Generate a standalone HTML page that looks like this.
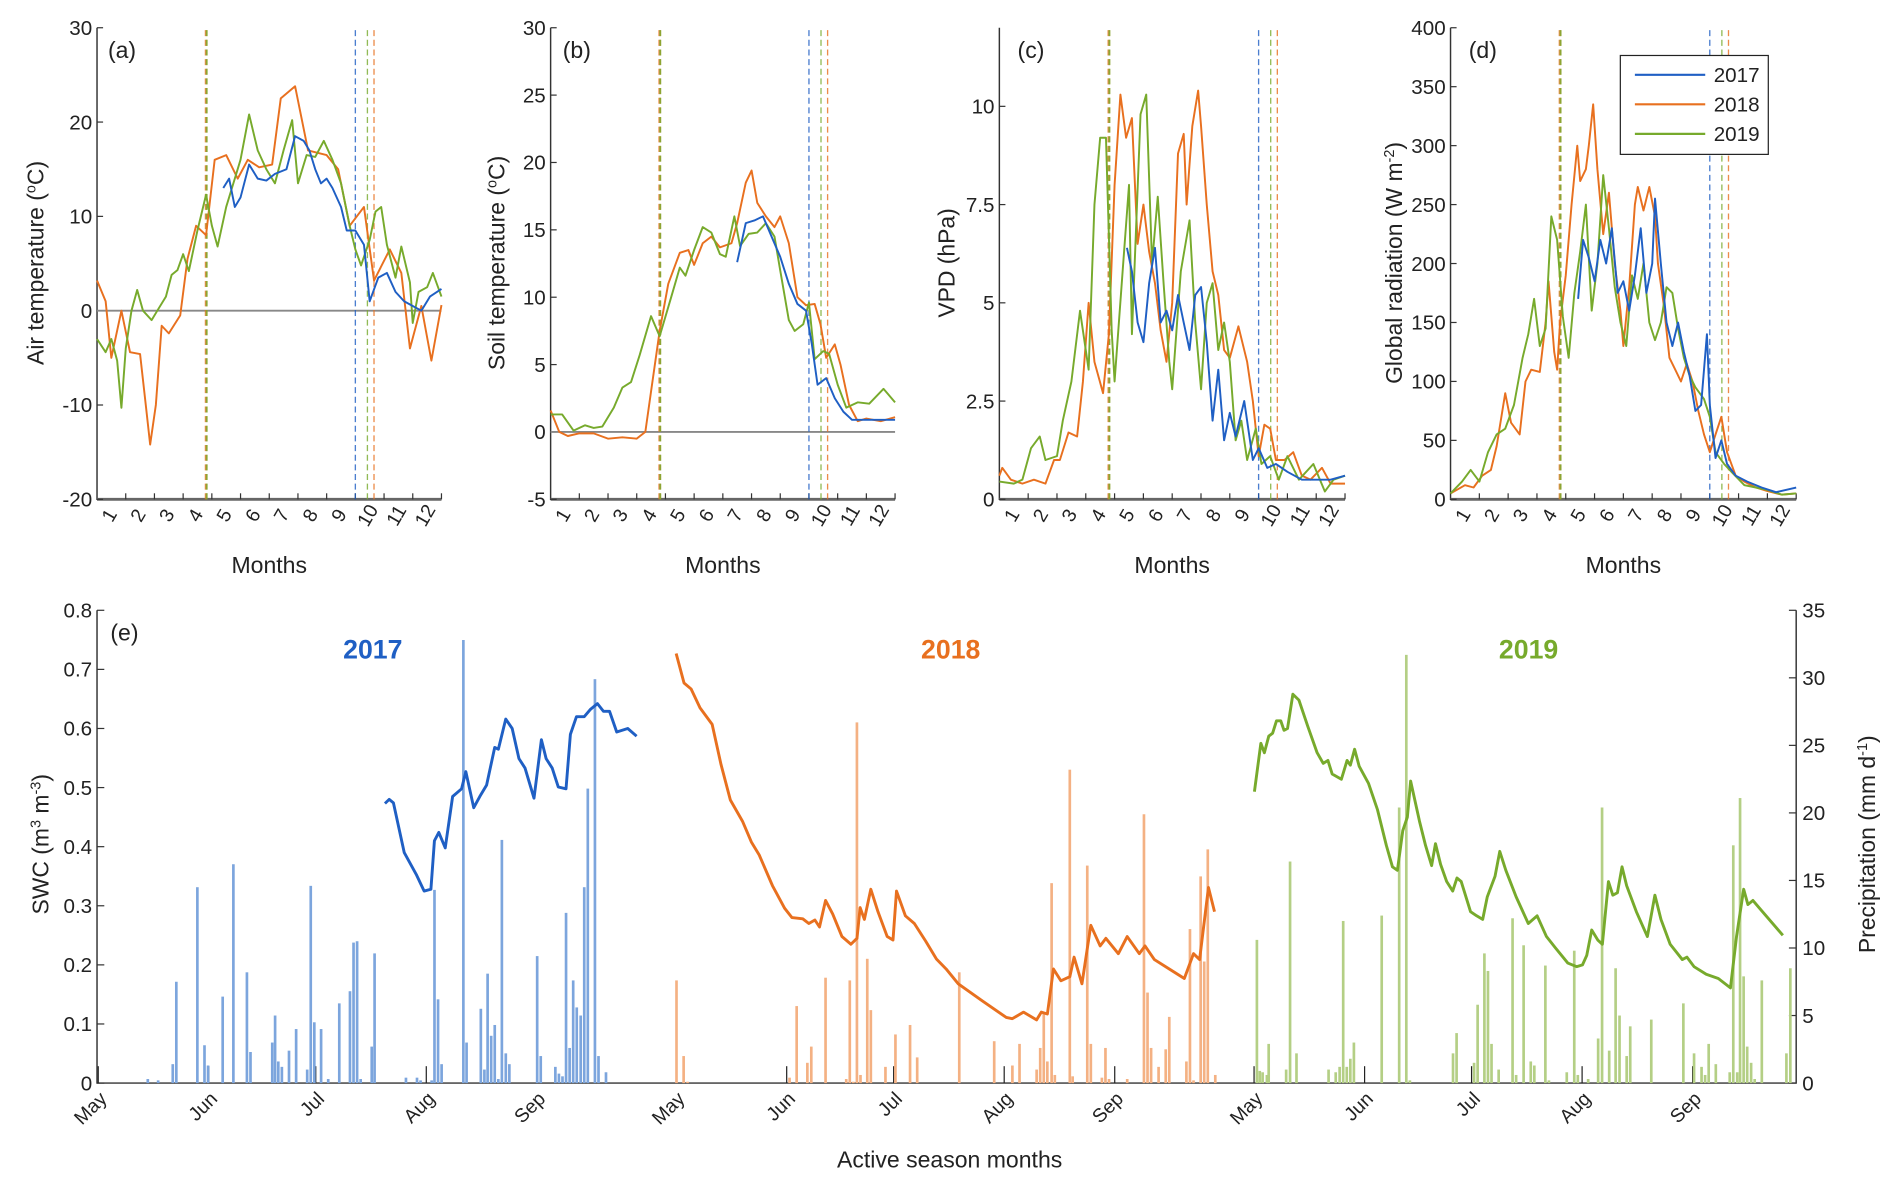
<!DOCTYPE html>
<html><head><meta charset="utf-8">
<style>
html,body{margin:0;padding:0;background:#fff;}
svg{display:block;}
text{font-family:"Liberation Sans",sans-serif;fill:#222;}
</style></head>
<body>
<svg id="fig" xmlns="http://www.w3.org/2000/svg" width="1892" height="1188" viewBox="0 0 1560 985" preserveAspectRatio="none"></svg>
<script>
// ---------- DATA (months 0..12) ----------
const aOrangeM=[0,0.3,0.5,0.85,1.15,1.5,1.7,1.85,2.05,2.25,2.5,2.9,3.15,3.45,3.8,4.1,4.5,4.9,5.25,5.65,6.1,6.4,6.9,7.35,8,8.4,8.8,9.3,9.65,10.2,10.6,10.9,11.3,11.65,12];
const aOrangeV=[3.2,1,-5,0,-4.4,-4.6,-10,-14.2,-10,-1.6,-2.4,-0.5,5.5,9,8,16,16.5,14,16,15.2,15.5,22.5,23.8,17,16.5,15,9,11,3.2,6.5,4,-4,0.5,-5.3,0.6];
const aGreenM=[0,0.3,0.5,0.7,0.85,1.0,1.2,1.4,1.6,1.9,2.1,2.4,2.6,2.8,3.0,3.2,3.5,3.8,4.0,4.2,4.5,4.8,5.0,5.3,5.6,5.9,6.2,6.5,6.8,7.0,7.3,7.6,7.9,8.2,8.5,8.8,9.0,9.2,9.5,9.7,9.9,10.1,10.4,10.6,10.9,11.0,11.2,11.5,11.7,12];
const aGreenV=[-3,-4.4,-3,-5.3,-10.3,-4,0,2.2,0,-1,0,1.5,3.8,4.3,6,4.2,8.5,12.3,9,6.8,11,14,16,20.8,17,15,13.5,17,20.2,13.5,16.5,16.3,18,16,13.5,9,6.5,4.8,7.5,10.5,11,7,3.5,6.8,3,-1.3,2,2.5,4,1.5];
const aBlueM=[4.4,4.6,4.8,5.0,5.3,5.6,5.9,6.2,6.6,6.9,7.2,7.4,7.6,7.8,8.0,8.2,8.5,8.7,9.0,9.3,9.5,9.8,10.1,10.4,10.7,11,11.3,11.6,12];
const aBlueV=[13,14,11,12,15.5,14,13.8,14.5,15,18.5,18,17,15,13.5,14,13,11,8.5,8.5,7,1,3.5,4,2,1,0.5,0,1.5,2.3];

const bOrangeM=[0,0.3,0.6,1.0,1.5,2.0,2.5,3.0,3.3,3.5,3.8,4.1,4.5,4.8,5.0,5.3,5.6,5.9,6.3,6.5,6.8,7.0,7.2,7.5,7.8,8.0,8.3,8.6,8.9,9.2,9.4,9.6,9.9,10.1,10.4,10.7,11,11.5,12];
const bOrangeV=[1.6,0,-0.3,-0.1,-0.1,-0.5,-0.4,-0.5,0,3,7.5,11,13.3,13.5,12.4,14,14.5,13.7,14,15.5,18.5,19.4,17,16,15.2,16,14,10,9.4,9.5,8,5.5,6.5,5,2,0.8,1,0.8,1.1];
const bGreenM=[0,0.4,0.8,1.2,1.5,1.8,2.2,2.5,2.8,3.1,3.5,3.8,4.2,4.5,4.7,5.0,5.3,5.6,5.9,6.1,6.4,6.6,6.9,7.2,7.5,7.8,8.0,8.3,8.5,8.8,9.0,9.2,9.5,9.7,10.0,10.3,10.7,11.1,11.6,12];
const bGreenV=[1.3,1.3,0.1,0.5,0.3,0.4,1.8,3.3,3.7,5.7,8.6,7.1,10,12.2,11.6,13.5,15.2,14.8,13.2,13,16,13.8,14.7,14.8,15.5,14.5,12,8.3,7.5,8,9.6,5.4,6,5.8,3.5,1.8,2.2,2.1,3.2,2.2];
const bBlueM=[6.5,6.8,7.1,7.4,7.7,8.0,8.3,8.6,8.9,9.1,9.3,9.6,9.9,10.2,10.5,11,12];
const bBlueV=[12.6,15.5,15.7,16,14.5,13,11,9.5,9,6.5,3.5,4,2.5,1.5,0.9,0.9,0.9];

const cOrangeM=[0,0.1,0.4,0.8,1.2,1.6,1.9,2.1,2.4,2.7,2.9,3.1,3.3,3.6,3.8,4.0,4.2,4.4,4.6,4.8,5.0,5.2,5.4,5.6,5.8,6.0,6.2,6.4,6.5,6.7,6.9,7.0,7.2,7.4,7.6,7.8,8.0,8.3,8.6,8.8,9.0,9.2,9.4,9.6,9.9,10.2,10.5,10.8,11.2,11.5,12];
const cOrangeV=[0.6,0.8,0.5,0.4,0.5,0.4,1.0,1.0,1.7,1.6,3,5,3.5,2.7,4.2,8,10.3,9.2,9.7,6.5,7.5,6.3,5.5,4.3,3.5,5,8.8,9.3,7.5,9.5,10.4,9.5,7.5,5.8,5.2,3.8,3.6,4.4,3.5,2.5,1.1,1.9,1.8,1.0,1.0,1.2,0.6,0.5,0.8,0.4,0.4];
const cGreenM=[0,0.5,0.8,1.1,1.4,1.6,2.0,2.2,2.5,2.8,3.1,3.3,3.5,3.7,3.9,4.0,4.3,4.5,4.6,4.9,5.1,5.3,5.5,5.7,5.9,6.0,6.3,6.6,6.8,7.0,7.2,7.4,7.6,7.8,8.0,8.2,8.4,8.6,8.9,9.1,9.4,9.7,10.0,10.4,10.9,11.3,11.6,12];
const cGreenV=[0.45,0.4,0.5,1.3,1.6,1.0,1.1,2.0,3.0,4.8,3.3,7.5,9.2,9.2,4.3,3.0,6.0,8.0,4.2,9.8,10.3,6.0,7.7,5.5,3.5,2.8,5.8,7.1,4.5,2.8,5.0,5.5,3.8,4.5,3.5,1.5,2.0,1.0,1.8,0.9,1.1,0.5,1.1,0.5,0.9,0.2,0.5,0.6];
const cBlueM=[4.43,4.6,4.8,5.0,5.2,5.4,5.6,5.8,6.0,6.2,6.4,6.6,6.8,7.0,7.2,7.4,7.6,7.8,8.0,8.2,8.5,8.8,9.0,9.3,9.6,10.0,10.5,11,11.5,12];
const cBlueV=[6.4,5.8,4.5,4.0,5.5,6.4,4.5,4.8,4.3,5.2,4.5,3.8,5.2,5.4,4.0,2.0,3.3,1.5,2.2,1.6,2.5,1.0,1.3,0.8,0.9,0.7,0.5,0.5,0.5,0.6];

const dOrangeM=[0,0.5,0.8,1.1,1.4,1.6,1.9,2.1,2.4,2.6,2.8,3.1,3.3,3.4,3.6,3.7,3.8,4.0,4.2,4.4,4.5,4.7,4.8,4.95,5.1,5.3,5.5,5.7,5.9,6.0,6.2,6.4,6.5,6.7,6.9,7.1,7.2,7.4,7.6,7.8,8.0,8.2,8.4,8.6,8.8,9.0,9.2,9.4,9.6,9.9,10.2,10.6,11,11.5,12];
const dOrangeV=[5,12,10,20,25,45,90,65,55,100,110,108,150,185,125,110,150,190,250,300,270,280,300,335,280,225,260,200,160,130,180,250,265,245,265,240,200,165,120,110,100,115,100,75,55,40,55,70,40,20,15,10,7,4,5];
const dGreenM=[0,0.4,0.7,1.0,1.3,1.6,1.9,2.2,2.5,2.7,2.9,3.1,3.3,3.5,3.7,3.9,4.1,4.3,4.5,4.7,4.9,5.1,5.3,5.5,5.7,5.9,6.1,6.3,6.5,6.7,6.9,7.1,7.3,7.5,7.7,7.9,8.1,8.3,8.5,8.8,9.0,9.2,9.5,9.8,10.2,10.6,11,11.5,12];
const dGreenV=[5,15,25,15,40,55,60,80,120,140,170,130,145,240,220,155,120,175,210,250,160,200,275,230,180,150,130,190,170,200,150,135,150,180,175,145,120,105,95,85,70,40,30,22,12,10,8,4,5];
const dBlueM=[4.43,4.6,4.8,5.0,5.2,5.4,5.6,5.8,6.0,6.2,6.4,6.6,6.8,7.0,7.1,7.3,7.5,7.7,7.9,8.1,8.3,8.5,8.7,8.9,9.0,9.2,9.4,9.6,9.9,10.3,10.8,11.3,12];
const dBlueV=[170,220,205,185,220,200,230,175,185,160,190,230,175,200,255,200,150,130,150,125,105,75,80,140,80,35,50,30,20,15,10,6,10];

// season boundaries (month) [2017,2018,2019]
const seasonStart=[3.8,3.8,3.82];
const seasonEnd=[9.0,9.65,9.42];

// ---------- panel (e): day of season from May 1 ----------
const swc17D=[80.4,81.6,82.8,85.8,89.2,91.4,93.3,94.3,95.5,97.3,99.4,101.9,103.1,105.3,107,108.9,111.2,112.2,114.3,116.1,118,119.7,122.2,124.3,125.6,127.3,129,131.2,132.4,134.1,136.3,138,140,141.7,143.4,145.4,148.5,151];
const swc17V=[0.473,0.48,0.474,0.39,0.353,0.325,0.328,0.41,0.424,0.398,0.485,0.498,0.527,0.466,0.485,0.504,0.568,0.565,0.616,0.6,0.549,0.533,0.482,0.581,0.549,0.533,0.501,0.498,0.59,0.62,0.62,0.632,0.642,0.629,0.629,0.594,0.6,0.587];
const swc18D=[0,2.2,4.2,6.7,10.1,12.6,15.2,18.6,21.1,23.3,27,30.4,32.5,35.5,37.2,38.9,40.2,41.9,43.9,46.5,49,50.7,51.6,52.8,54.6,56.6,59.2,60.8,61.8,64.3,66.8,70,73,75.7,79.1,85.9,92.6,94.3,97.4,101.1,102.4,104.1,105.8,107.9,110.4,111.6,113.8,116.3,118.9,120.5,124,126.5,129.9,131.5,134.1,138.3,142.5,145.1,146.8,149.3,151];
const swc18V=[0.727,0.677,0.667,0.635,0.607,0.539,0.479,0.443,0.408,0.386,0.334,0.296,0.28,0.278,0.27,0.276,0.264,0.309,0.286,0.248,0.235,0.245,0.297,0.277,0.328,0.29,0.248,0.242,0.325,0.283,0.27,0.24,0.21,0.193,0.168,0.139,0.111,0.109,0.12,0.107,0.12,0.117,0.193,0.173,0.18,0.213,0.168,0.267,0.232,0.245,0.219,0.248,0.219,0.232,0.209,0.193,0.177,0.219,0.209,0.331,0.29];
const swc19D=[0.1,1.9,2.9,4.1,5.2,6.3,7.5,8.4,9.4,10.9,12.6,15.1,17.7,19.4,20.7,21.9,24.5,26.1,27,28.2,29.5,32.1,34.6,37.1,38.8,40.2,41.7,43,43.9,46.4,48.1,49.8,50.9,52.3,54,55.7,56.9,58.1,60.7,62.4,64.1,65.4,67.6,68.9,70.6,73.5,76.9,79.4,82,84.5,88,90.5,92.1,93.3,94.7,96.4,97.7,99.4,100.6,101.9,103.2,104.5,107.2,110.3,112.4,114.1,116.7,120.1,121.4,123.4,126.8,130.2,133.6,135.3,137.3,138.5,139.9,141.6,148.3];
const swc19V=[0.493,0.575,0.559,0.587,0.592,0.613,0.613,0.597,0.6,0.658,0.648,0.603,0.559,0.541,0.546,0.523,0.514,0.546,0.538,0.565,0.536,0.507,0.463,0.402,0.366,0.36,0.427,0.45,0.511,0.443,0.402,0.368,0.405,0.37,0.341,0.325,0.347,0.341,0.29,0.283,0.277,0.315,0.35,0.392,0.36,0.315,0.27,0.283,0.248,0.229,0.203,0.197,0.2,0.216,0.259,0.242,0.235,0.341,0.318,0.322,0.366,0.334,0.29,0.248,0.318,0.277,0.235,0.209,0.213,0.197,0.184,0.177,0.161,0.248,0.328,0.302,0.309,0.297,0.25];

const pr17D=[13.9,16.8,20.9,21.9,27.8,29.8,30.8,34.9,37.9,41.7,42.7,48.8,49.6,50.5,51.5,53.5,55.5,58.6,59.6,60.6,62.5,64.5,67.6,70.6,71.6,72.6,73.6,76.7,77.5,86.3,89.4,90.4,93.5,94.3,95.3,96.3,102.4,103.3,107.3,108.3,109.2,110.2,111.2,112.2,113.2,114.3,115.3,123.1,124.1,128.2,129.2,130.2,131.2,132.2,133.2,134.2,135.3,136.3,137.3,139.3,140.3,142.4];
const pr17V=[0.3,0.2,1.4,7.5,14.5,2.8,1.3,6.4,16.2,8.2,2.3,3,5,1.6,1.2,2.4,4,1,14.6,4.5,4,0.3,5.9,6.8,10.4,10.5,0.3,2.7,9.6,0.4,0.4,0.2,0.2,14.3,6.2,1.4,32.8,3,5.5,1,8.1,3.5,4.3,0.3,18,2.2,1.4,9.4,2,1.2,0.7,0.5,12.6,2.6,7.6,5.6,5,14.5,21.8,29.9,2,0.8];
const pr18D=[0.1,2.1,3.2,31.8,33.8,36.8,37.9,41.9,47.7,48.7,49.7,50.7,51.7,53.6,54.6,58.7,61.5,65.6,67.6,79.4,89.2,94.3,96.3,101.1,102.1,103.1,104.1,105.3,106.2,110.4,111.2,115.3,116.3,119.4,120.4,121.4,126.5,131.2,132.2,133.2,135.3,137.3,138.3,143.1,144.1,145.1,147.1,148.1,149.1,151.2];
const pr18V=[7.6,2,0.1,0.4,5.7,1.5,2.7,7.8,0.3,7.6,0.1,26.7,0.6,9.2,5.4,1.2,3.6,4.3,1.9,8.2,3.1,1.3,2.9,1,2.6,5.2,1.6,14.8,0.6,23.2,0.5,16.1,2.9,0.4,2.6,0.3,0.3,19.9,6.7,2.6,1.2,2.5,4.9,1.6,11.4,0.2,15.3,9,17.3,0.6];
const pr19D=[0.8,1.6,2.4,3.6,4.1,9.0,10.1,11.9,20.9,22.9,24.0,25.0,26.0,27.0,28.0,35.8,40.7,42.7,43.7,55.8,56.8,61.7,62.7,64.6,65.6,66.6,68.6,72.5,73.5,75.6,77.6,78.6,81.7,82.7,87.7,89.8,90.8,93.7,96.5,97.6,99.6,101.4,102.5,104.5,105.5,111.4,120.4,123.4,125.5,126.5,127.5,129.5,133.4,134.4,135.5,136.3,137.3,138.3,139.4,140.4,142.4,149.3,150.4];
const pr19V=[10.6,0.9,0.8,0.6,2.9,1,16.4,2.2,1,0.8,1.2,12,1.2,1.8,3,12.4,20.4,31.7,0.2,2.2,3.7,1.5,5.8,9.6,8.3,2.9,1,12.2,0.6,10.2,1.6,1.3,8.7,0.2,0.8,9.8,0.6,0.3,3.3,20.4,2.4,8.5,5,2,4.2,4.7,5.9,2.2,1.2,0.6,2.9,1.4,0.8,17.6,0.8,21.1,7.9,2.7,1.5,0.3,7.6,2.2,8.5];

// ---------- drawing ----------
const NS='http://www.w3.org/2000/svg';
const svg=document.getElementById('fig');
function mk(tag,attrs,parent){const e=document.createElementNS(NS,tag);for(const k in attrs)e.setAttribute(k,attrs[k]);(parent||svg).appendChild(e);return e;}
const C={b:'#1f5fc4',o:'#e8701f',g:'#77aa2c'};
const CB={b:'#7ca5dd',o:'#f4b183',g:'#b4cf85'};

function panel(id,x0,x1,yb,yt,vmin,vmax,ticks,tickFmt){
  const g=mk('g',{});
  
  
  const P={g,x:m=>x0+(x1-x0)*m/12,y:v=>yb-(yb-yt)*(v-vmin)/(vmax-vmin)};
  const ax=mk('path',{d:`M${x0},${yt}V${yb}H${x1}`,fill:'none',stroke:'#333','stroke-width':1.2},g);
  
  
  const bl=mk('line',{x1:x0,x2:x1,y1:yb,y2:yb,stroke:'#666','stroke-width':2.4},g);
  
  
  ticks.forEach(v=>{
    const y=P.y(v);
    const t=mk('line',{x1:x0,x2:x0+5,y1:y,y2:y,stroke:'#333','stroke-width':1},g);
    
    
    const tx=mk('text',{x:x0-4,y:y+6,'text-anchor':'end','font-size':17},g);
    
    
    tx.textContent=tickFmt?tickFmt(v):v;
  });
  for(let m=1;m<=12;m++){
    const x=P.x(m);
    const t=mk('line',{x1:x,x2:x,y1:yb,y2:yb-5,stroke:'#333','stroke-width':1},g);
    
    
    const lx=P.x(m-0.5)+3,ly=yb+16;
    const tx=mk('text',{x:lx,y:ly,'text-anchor':'middle','font-size':16,transform:`rotate(-60 ${lx} ${ly})`},g);
    
    
    tx.textContent=m;
  }
  const xt=mk('text',{x:(x0+x1)/2,y:475,'text-anchor':'middle','font-size':19},g);
  
  
  xt.textContent='Months';
  return P;
}
function vdash(P,m,col,yb,yt,w){
  const l=mk('line',{x1:P.x(m),x2:P.x(m),y1:yb,y2:yt,stroke:col,'stroke-width':w,'stroke-dasharray':'5,3',opacity:0.8},P.g);
  
  
}
function series(P,ms,vs,col,name){
  const d=ms.map((m,i)=>(i?'L':'M')+P.x(m).toFixed(1)+','+P.y(vs[i]).toFixed(1)).join('');
  const p=mk('path',{d,fill:'none',stroke:col,'stroke-width':1.6,'stroke-linejoin':'round'},P.g);
  
  
}
function ytitle(x,y,html,name){
  const t=mk('text',{x,y,'text-anchor':'middle','font-size':19,transform:`rotate(-90 ${x} ${y})`});
  
  
  t.innerHTML=html;
}
function plabel(x,y,s){
  const t=mk('text',{x,y,'font-size':19});
  
  
  t.textContent=s;
}
function boundaries(P){
  vdash(P,seasonStart[1],C.o,414,23,2.2);
  vdash(P,seasonStart[2],C.g,414,23,1.6);
  vdash(P,seasonEnd[0],C.b,414,23,1.1);
  vdash(P,seasonEnd[2],C.g,414,23,1.1);
  vdash(P,seasonEnd[1],C.o,414,23,1.1);
}

// (a)
const A=panel('a',80,364,414,23,-20,30,[-20,-10,0,10,20,30]);
const za=mk('line',{x1:80,x2:364,y1:A.y(0),y2:A.y(0),stroke:'#888','stroke-width':1.5},A.g);


boundaries(A);
series(A,aOrangeM,aOrangeV,C.o,'air-temp-2018');
series(A,aGreenM,aGreenV,C.g,'air-temp-2019');
series(A,aBlueM,aBlueV,C.b,'air-temp-2017');
plabel(89,48,'(a)');
ytitle(36,218,'Air temperature (<tspan baseline-shift="super" font-size="12">o</tspan>C)','y-axis-title-air-temp');

// (b)
const B=panel('b',454,738,414,23,-5,30,[-5,0,5,10,15,20,25,30]);
const zb=mk('line',{x1:454,x2:738,y1:B.y(0),y2:B.y(0),stroke:'#888','stroke-width':1.5},B.g);


boundaries(B);
series(B,bOrangeM,bOrangeV,C.o,'soil-temp-2018');
series(B,bGreenM,bGreenV,C.g,'soil-temp-2019');
series(B,bBlueM,bBlueV,C.b,'soil-temp-2017');
plabel(464,48,'(b)');
ytitle(416,218,'Soil temperature (<tspan baseline-shift="super" font-size="12">o</tspan>C)','y-axis-title-soil-temp');

// (c)
const Cp=panel('c',824,1109,414,23,0,12,[0,2.5,5,7.5,10],v=>v);
boundaries(Cp);
series(Cp,cOrangeM,cOrangeV,C.o,'vpd-2018');
series(Cp,cGreenM,cGreenV,C.g,'vpd-2019');
series(Cp,cBlueM,cBlueV,C.b,'vpd-2017');
plabel(839,48,'(c)');
ytitle(787,218,'VPD (hPa)','y-axis-title-vpd');

// (d)
const D=panel('d',1196,1481,414,23,0,400,[0,50,100,150,200,250,300,350,400]);
boundaries(D);
series(D,dOrangeM,dOrangeV,C.o,'radiation-2018');
series(D,dGreenM,dGreenV,C.g,'radiation-2019');
series(D,dBlueM,dBlueV,C.b,'radiation-2017');
plabel(1211,48,'(d)');
ytitle(1156,218,'Global radiation (W m<tspan baseline-shift="super" font-size="12">-2</tspan>)','y-axis-title-radiation');

// legend
const lg=mk('g',{});


const lb=mk('rect',{x:1336,y:46,width:122,height:82,fill:'#fff',stroke:'#222','stroke-width':1},lg);


const legYears=['2017','2018','2019'],legCols=[C.b,C.o,C.g];
legYears.forEach((yr,i)=>{
  const y=62+i*24.5;
  const l=mk('line',{x1:1348,x2:1406,y1:y,y2:y,stroke:legCols[i],'stroke-width':1.8},lg);
  
  
  const t=mk('text',{x:1413,y:y+6,'font-size':17},lg);
  
  
  t.textContent=yr;
});

// (e)
const E={x0:80,x1:1481,yb:898,yt:506};
const eg=mk('g',{});


const seasonBase=[81,557.5,1034];
const pxDay=2.94;
const ex=(s,d)=>seasonBase[s]+d*pxDay;
const eyS=v=>E.yb-(E.yb-E.yt)*v/0.8;
const eyP=v=>E.yb-(E.yb-E.yt)*v/35;
const eax=mk('path',{d:`M${E.x0},${E.yt}V${E.yb}H${E.x1}V${E.yt}`,fill:'none',stroke:'#333','stroke-width':1.2},eg);


const swcTicks=[0,0.1,0.2,0.3,0.4,0.5,0.6,0.7,0.8];
swcTicks.forEach(v=>{
  const y=eyS(v);
  const t=mk('line',{x1:E.x0,x2:E.x0+6,y1:y,y2:y,stroke:'#333'},eg);
  
  
  const tx=mk('text',{x:E.x0-4,y:y+6,'text-anchor':'end','font-size':17},eg);
  
  
  tx.textContent=v===0?'0':v.toFixed(1);
});
const prTicks=[0,5,10,15,20,25,30,35];
prTicks.forEach(v=>{
  const y=eyP(v);
  const t=mk('line',{x1:E.x1-6,x2:E.x1,y1:y,y2:y,stroke:'#333'},eg);
  
  
  const tx=mk('text',{x:E.x1+5,y:y+6,'font-size':17},eg);
  
  
  tx.textContent=v;
});
const monthNames=['May','Jun','Jul','Aug','Sep'];
const monthStartDay=[0,31,61,92,123];
for(let s=0;s<3;s++){
  monthStartDay.forEach((d,i)=>{
    const x=ex(s,d);
    const t=mk('line',{x1:x,x2:x,y1:E.yb,y2:E.yb-14,stroke:'#222','stroke-width':1},eg);
    
    
    const lx=x+8,ly=E.yb+14;
    const tx=mk('text',{x:lx,y:ly,'text-anchor':'end','font-size':16,transform:`rotate(-45 ${lx} ${ly})`},eg);
    
    
    tx.textContent=monthNames[i];
  });
}
const barSets=[[pr17D,pr17V,CB.b,'2017'],[pr18D,pr18V,CB.o,'2018'],[pr19D,pr19V,CB.g,'2019']];
barSets.forEach((bs,s)=>{
  bs[0].forEach((d,i)=>{
    const x=ex(s,d),y=eyP(bs[1][i]);
    const r=mk('rect',{x:x-1.1,y:y,width:2.2,height:E.yb-y,fill:bs[2]},eg);
    
    
  });
});
const lineSets=[[swc17D,swc17V,C.b,'2017'],[swc18D,swc18V,C.o,'2018'],[swc19D,swc19V,C.g,'2019']];
lineSets.forEach((ls,s)=>{
  const d=ls[0].map((dd,i)=>(i?'L':'M')+ex(s,dd).toFixed(1)+','+eyS(ls[1][i]).toFixed(1)).join('');
  const p=mk('path',{d,fill:'none',stroke:ls[2],'stroke-width':2.4,'stroke-linejoin':'round'},eg);
  
  
  const t=mk('text',{x:ex(s,77),y:546,'text-anchor':'middle','font-size':22,'font-weight':'bold',style:'fill:'+ls[2]},eg);
  
  
  t.textContent=ls[3];
});
plabel(91,531,'(e)');
ytitle(40,700,'SWC (m<tspan baseline-shift="super" font-size="12">3</tspan> m<tspan baseline-shift="super" font-size="12">-3</tspan>)','y-axis-title-swc');
ytitle(1546,700,'Precipitation (mm d<tspan baseline-shift="super" font-size="12">-1</tspan>)','y-axis-title-precip');
const xe=mk('text',{x:783,y:968,'text-anchor':'middle','font-size':19});


xe.textContent='Active season months';
</script>
</body></html>
